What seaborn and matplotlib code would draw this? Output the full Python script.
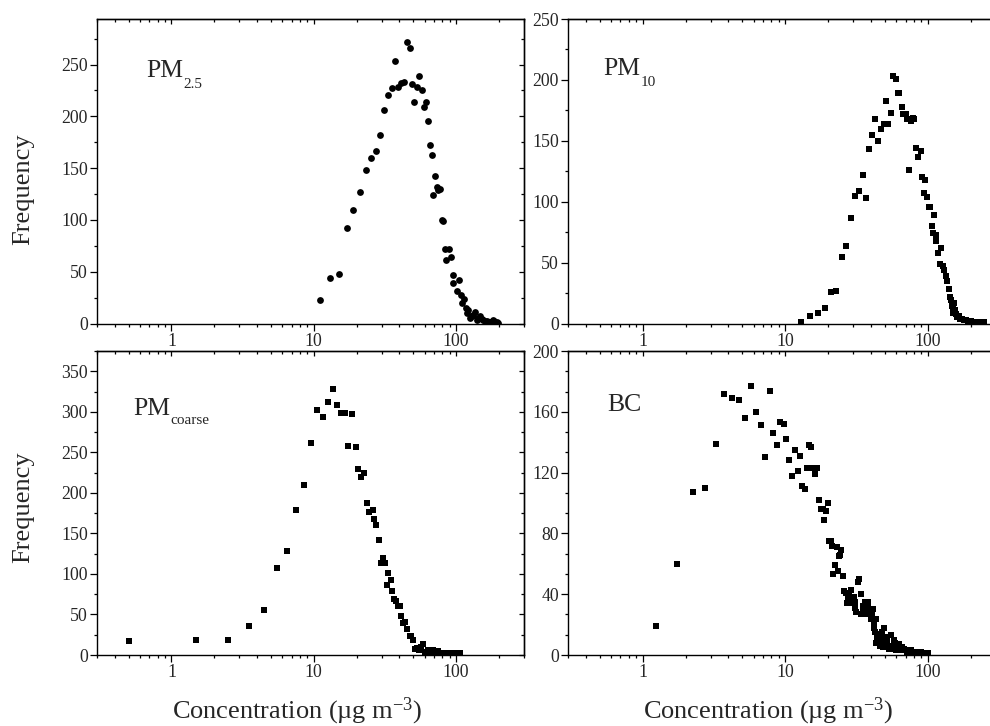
import numpy as np
import pandas as pd
import matplotlib
matplotlib.use("Agg")
import matplotlib.pyplot as plt
import seaborn as sns
from matplotlib.ticker import LogLocator, NullFormatter, FuncFormatter, MultipleLocator, AutoMinorLocator

# ---------------- data ----------------
pm25_x = [11.0, 13.1, 15.0, 17.1, 19.0, 21.2, 23.1, 25.2, 27.2, 29.1,
          31.1, 33.0, 35.2, 37.1, 39.2, 41.1, 43.2, 45.1, 47.1, 49.1,
          51.0, 53.2, 55.3, 57.4, 59.3, 61.2, 63.3, 65.7, 67.5, 69.3,
          71.2, 73.2, 75.1, 77.2, 79.4, 81.5, 83.8, 85.1, 89.4, 92.3,
          94.8, 95.7, 101, 105, 108, 110.7, 113.8, 117, 119, 122,
          129, 136, 140, 147, 155, 164, 173, 181, 193,
          125, 132, 143, 151, 159, 168, 177, 186, 197]
pm25_y = [23, 44, 48, 92, 110, 127, 148, 160, 167, 182,
          206, 221, 227, 253, 228, 232, 233, 272, 266, 231,
          214, 228, 239, 225, 209, 214, 196, 172, 163, 124,
          142, 132, 129, 130, 100, 99, 72, 61, 72, 64,
          39, 47, 31, 42, 28, 20, 24, 15, 10, 13,
          7, 11, 3, 7, 3, 2, 1, 3, 1,
          5, 8, 5, 4, 2, 1, 1, 2, 0.5]

pm10_x = [12.9, 15.0, 17.0, 18.9, 20.9, 22.8, 25.0, 26.8, 28.9, 30.9,
          32.9, 34.9, 37.1, 38.7, 40.8, 42.9, 44.8, 47.0, 49.1, 51.0,
          52.9, 55.2, 57.0, 59.6, 61.2, 63.2, 65.6, 67.1, 69.7, 71.6,
          73.1, 76.3, 78.0, 80.5, 82.7, 85.5, 88.7, 91.2, 93.7, 95.2,
          98.9, 101.6, 104, 107, 109, 110, 113, 114.5, 118, 121,
          122.7, 127, 130, 133, 137, 141, 145, 147, 152, 155,
          158, 165, 174, 184, 199, 222, 247,
          143, 149, 150, 160, 168, 178, 190, 210, 235]
pm10_y = [1, 6, 9, 13, 26, 27, 55, 64, 87, 105,
          109, 122, 103, 143, 155, 168, 150, 160, 164, 183,
          164, 173, 203, 201, 189, 189, 178, 172, 172, 168,
          126, 166, 169, 168, 144, 137, 142, 120, 107, 118,
          104, 96, 96, 80, 74, 89, 68, 73, 58, 49,
          62, 47, 44, 39, 35, 28, 19, 14, 17, 11,
          8, 6, 4, 3, 2, 1, 1,
          22, 12, 9, 5, 4, 3, 2, 1.5, 1]

coarse_x = [0.50, 1.50, 2.51, 3.51, 4.5, 5.52, 6.52, 7.54, 8.58, 9.55,
            10.6, 11.6, 12.6, 13.6, 14.6, 15.5, 16.6, 17.5, 18.6, 19.7,
            20.6, 21.6, 22.7, 23.7, 24.6, 25.9, 26.6, 27.5, 28.7, 29.6,
            30.6, 31.6, 32.6, 33.5, 34.8, 35.5, 36.7, 37.9, 39.2, 40.4,
            41.3, 42.7, 44.1, 45.5, 47.1, 48.6, 50.2, 51.6, 53.5, 55.3,
            58.3, 60.6, 63.9, 69.3, 75.2, 81.5, 88.3, 95.8, 107,
            56.5, 66, 72, 78, 85, 92, 100, 104]
coarse_y = [17, 18, 18, 36, 55, 107, 128, 179, 210, 262,
            302, 293, 312, 328, 308, 298, 299, 258, 297, 257,
            229, 219, 224, 187, 177, 179, 168, 160, 142, 114,
            120, 113, 86, 101, 92, 79, 69, 67, 61, 60,
            48, 39, 41, 32, 23, 23, 18, 8, 9, 6,
            14, 4, 6, 6, 5, 3, 3, 3, 3,
            10, 4, 4, 3, 2, 2, 2, 2]

bc_x = [1.25, 1.74, 2.24, 2.74, 3.26, 3.75, 4.24, 4.72, 5.24, 5.77,
        6.22, 6.75, 7.23, 7.76, 8.24, 8.74, 9.22, 9.73, 10.2, 10.7,
        11.2, 11.7, 12.2, 12.7, 13.2, 13.7, 14.2, 14.7, 15.2, 15.7,
        16.2, 16.8, 17.3, 17.9, 18.4, 18.8, 19.4, 19.8, 20.4, 20.8,
        21.4, 21.7, 22.3, 23.0, 23.5, 23.9, 24.3, 24.7, 25.4, 26.0,
        26.5, 27.1, 27.7, 28.6, 29.1, 29.6, 30.8, 31.5, 32.1, 32.9,
        33.7, 34.2, 35.2, 36.3, 37.1, 37.9, 38.7, 39.6, 40.4, 41.3,
        41.8, 42.4, 43.4, 44.1, 45.3, 46.5, 47.8, 49.6, 51.3, 53.2,
        54.7, 56.1, 58.3, 60.2, 62.5, 65, 67.8, 71.6, 75.5, 81.9,
        88.8, 96.3, 100,
        43.0, 44.8, 46.0, 48.0, 48.5, 50.0, 50.5, 52.0, 55.0, 57.0,
        59.0, 61.0, 63.0, 66.0, 69.0, 73.0, 78.0, 85.0, 92.0, 31.0,
        34.8, 36.8, 38.2, 40.0, 42.0, 28.0, 30.2]
bc_y = [19, 60, 107, 110, 139, 172, 169, 168, 156, 177,
        160, 151, 130, 174, 146, 138, 153, 152, 142, 128,
        118, 135, 121, 131, 111, 109, 123, 138, 137, 123,
        119, 123, 102, 96, 96, 89, 95, 100, 75, 75,
        72, 53, 59, 71, 55, 65, 66, 69, 52, 42,
        41, 34, 38, 37, 43, 34, 31, 28, 48, 50,
        27, 40, 32, 35, 27, 35, 30, 26, 27, 30,
        21, 15, 24, 12, 14, 10, 9, 18, 7, 4,
        13, 6, 10, 3, 7, 3, 4, 2, 3, 2,
        2, 1.5, 1.3,
        8, 11, 6, 15, 5, 12, 10, 9, 6, 4,
        8, 5, 3, 5, 3, 2, 2, 1.5, 1, 35,
        30, 29, 33, 24, 18, 40, 38]

# ---------------- styling ----------------
sns.set_style("ticks")
plt.rcParams["font.family"] = ["Liberation Serif", "DejaVu Serif"]
plt.rcParams["mathtext.fontset"] = "custom"
plt.rcParams["mathtext.rm"] = "Liberation Serif"
plt.rcParams["mathtext.it"] = "Liberation Serif:italic"

W, H = 990, 726
fig = plt.figure(figsize=(W / 100, H / 100), dpi=100)


def rect(l, r, t, b):
    return [l / W, 1 - b / H, (r - l) / W, (b - t) / H]


def px(x, y):
    return x / W, 1 - y / H


panels = [
    dict(x=pm25_x, y=pm25_y, marker="o", s=24, ylim=294, major=50, nminor=2,
         rect=rect(97, 524, 19, 323.5)),
    dict(x=pm10_x, y=pm10_y, marker="s", s=19, ylim=250, major=50, nminor=2,
         rect=rect(568, 996, 19, 323.5)),
    dict(x=coarse_x, y=coarse_y, marker="s", s=19, ylim=375, major=50, nminor=2,
         rect=rect(97, 524, 351, 655)),
    dict(x=bc_x, y=bc_y, marker="s", s=19, ylim=200, major=40, nminor=3,
         rect=rect(568, 996, 351, 655)),
]

logfmt = FuncFormatter(lambda v, p: f"{v:g}")

for p in panels:
    ax = fig.add_axes(p["rect"])
    df = pd.DataFrame({"conc": p["x"], "freq": p["y"]})
    sns.scatterplot(data=df, x="conc", y="freq", ax=ax, marker=p["marker"],
                    s=p["s"], color="black", linewidth=0, legend=False,
                    clip_on=True)
    ax.set_xscale("log")
    ax.set_xlim(0.3, 300)
    ax.set_ylim(0, p["ylim"])
    ax.set_xlabel("")
    ax.set_ylabel("")
    ax.xaxis.set_major_locator(LogLocator(base=10))
    ax.xaxis.set_minor_locator(LogLocator(base=10, subs=np.arange(2, 10)))
    ax.xaxis.set_major_formatter(logfmt)
    ax.xaxis.set_minor_formatter(NullFormatter())
    ax.yaxis.set_major_locator(MultipleLocator(p["major"]))
    ax.yaxis.set_minor_locator(AutoMinorLocator(p["nminor"]))
    for sp in ax.spines.values():
        sp.set_linewidth(1.0)
        sp.set_color("black")
    ax.tick_params(which="both", direction="out", top=False, right=False,
                   color="black", width=0.9)
    ax.tick_params(which="major", length=5, pad=1.5, labelsize=12.8)
    ax.tick_params(which="minor", length=2.5)

    # mirrored ticks pointing inward on top and right
    sx = ax.secondary_xaxis("top")
    sx.xaxis.set_major_locator(LogLocator(base=10))
    sx.xaxis.set_minor_locator(LogLocator(base=10, subs=np.arange(2, 10)))
    sx.xaxis.set_major_formatter(NullFormatter())
    sx.xaxis.set_minor_formatter(NullFormatter())
    sx.tick_params(which="both", direction="in", color="black", width=0.9)
    sx.tick_params(which="major", length=3.5)
    sx.tick_params(which="minor", length=2)
    sx.spines["top"].set_linewidth(1.0)

    sy = ax.secondary_yaxis("right")
    sy.yaxis.set_major_locator(MultipleLocator(p["major"]))
    sy.yaxis.set_minor_locator(AutoMinorLocator(p["nminor"]))
    sy.yaxis.set_major_formatter(NullFormatter())
    sy.tick_params(which="both", direction="in", color="black", width=0.9)
    sy.tick_params(which="major", length=3.5)
    sy.tick_params(which="minor", length=2)
    sy.spines["right"].set_linewidth(1.0)

# panel labels
big, small = 18.5, 11
fig.text(*px(146, 77), "PM", fontsize=big, ha="left", va="baseline")
fig.text(*px(183, 88), "2.5", fontsize=small, ha="left", va="baseline")
fig.text(*px(603, 75), "PM", fontsize=big, ha="left", va="baseline")
fig.text(*px(641, 86), "10", fontsize=small, ha="left", va="baseline")
fig.text(*px(133, 415), "PM", fontsize=big, ha="left", va="baseline")
fig.text(*px(170, 424), "coarse", fontsize=small, ha="left", va="baseline")
fig.text(*px(607, 411), "BC", fontsize=big, ha="left", va="baseline")

# axis titles
fig.text(*px(23, 189), "Frequency", fontsize=19, rotation=90,
         ha="center", va="center")
fig.text(*px(23, 507), "Frequency", fontsize=19, rotation=90,
         ha="center", va="center")
xlab = "Concentration (µg m$^{-3}$)"
fig.text(*px(172, 718), xlab, fontsize=19, ha="left", va="baseline")
fig.text(*px(643, 718), xlab, fontsize=19, ha="left", va="baseline")

fig.savefig("out.png", dpi=100)
